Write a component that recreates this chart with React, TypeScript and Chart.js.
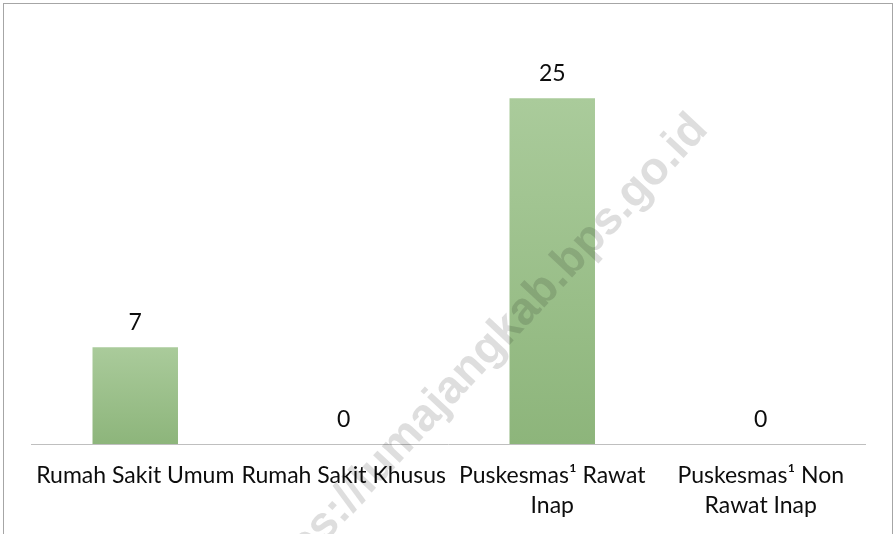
import { useEffect, useRef } from 'react';
import { Chart, registerables } from 'chart.js';

Chart.register(...registerables);

const categories: string[][] = [
  ['Rumah Sakit Umum'],
  ['Rumah Sakit Khusus'],
  ['Puskesmas¹ Rawat', 'Inap'],
  ['Puskesmas¹ Non', 'Rawat Inap'],
];
const values: number[] = [7, 0, 25, 0];
const yMin = 0;
const yMax = 30;
const watermark = 'https://lumajangkab.bps.go.id';

const FONT = 'Lato';

const decor = {
  id: 'decor',
  beforeDraw(chart: any) {
    const c = chart.ctx;
    c.save();
    c.fillStyle = '#ffffff';
    c.fillRect(0, 0, chart.width, chart.height);
    c.restore();
  },
  afterDatasetsDraw(chart: any) {
    const c = chart.ctx;
    const meta = chart.getDatasetMeta(0);
    c.save();
    c.font = `23px ${FONT}`;
    c.fillStyle = '#0d0d0d';
    c.textAlign = 'center';
    c.textBaseline = 'middle';
    meta.data.forEach((bar: any, i: number) => {
      c.fillText(String(values[i]), bar.x, bar.y - 24.5);
    });
    c.restore();

    c.save();
    c.globalCompositeOperation = 'multiply';
    c.translate(478, 360);
    c.rotate((-47 * Math.PI) / 180);
    c.font = 'bold 46px "Liberation Sans"';
    c.fillStyle = '#dedede';
    c.textAlign = 'center';
    c.textBaseline = 'middle';
    c.fillText(watermark, 0, 0);
    c.restore();

    c.save();
    c.strokeStyle = '#a6a6a6';
    c.lineWidth = 1;
    c.strokeRect(3.5, 3.5, 889, 600);
    c.restore();
  },
};

export default function App() {
  const ref = useRef<HTMLCanvasElement | null>(null);

  useEffect(() => {
    document.body.style.margin = '0';
    const canvas = ref.current;
    if (!canvas) return;
    const chart = new Chart(canvas, {
      type: 'bar',
      data: {
        labels: categories,
        datasets: [
          {
            data: values,
            categoryPercentage: 1,
            barPercentage: 0.41,
            borderWidth: 0,
            backgroundColor: (ctx: any) => {
              const ch = ctx.chart;
              const y = ch.scales?.y;
              if (!y || ctx.dataIndex === undefined) return '#9dc28b';
              const top = y.getPixelForValue(values[ctx.dataIndex]);
              const bottom = y.getPixelForValue(0);
              if (!isFinite(top) || !isFinite(bottom) || bottom - top < 1) return '#9dc28b';
              const g = ch.ctx.createLinearGradient(0, top, 0, bottom);
              g.addColorStop(0, '#aacb9b');
              g.addColorStop(1, '#8db57b');
              return g;
            },
          },
        ],
      },
      options: {
        responsive: false,
        animation: false,
        devicePixelRatio: 1,
        layout: { padding: { left: 31, right: 28, top: 29, bottom: 0 } },
        plugins: {
          legend: { display: false },
          tooltip: { enabled: false },
        },
        scales: {
          x: {
            grid: { display: false, drawTicks: false },
            border: { display: true, color: '#bfbfbf', width: 1 },
            ticks: {
              padding: 17,
              color: '#0d0d0d',
              autoSkip: false,
              maxRotation: 0,
              font: { family: FONT, size: 23, lineHeight: 30 / 23 },
            },
            afterFit: (s: any) => {
              s.height = 90;
            },
          },
          y: { display: false, min: yMin, max: yMax },
        },
      },
      plugins: [decor],
    });
    return () => chart.destroy();
  }, []);

  return (
    <div style={{ width: 893, height: 534 }}>
      <canvas ref={ref} width={893} height={534} style={{ display: 'block' }} />
    </div>
  );
}
